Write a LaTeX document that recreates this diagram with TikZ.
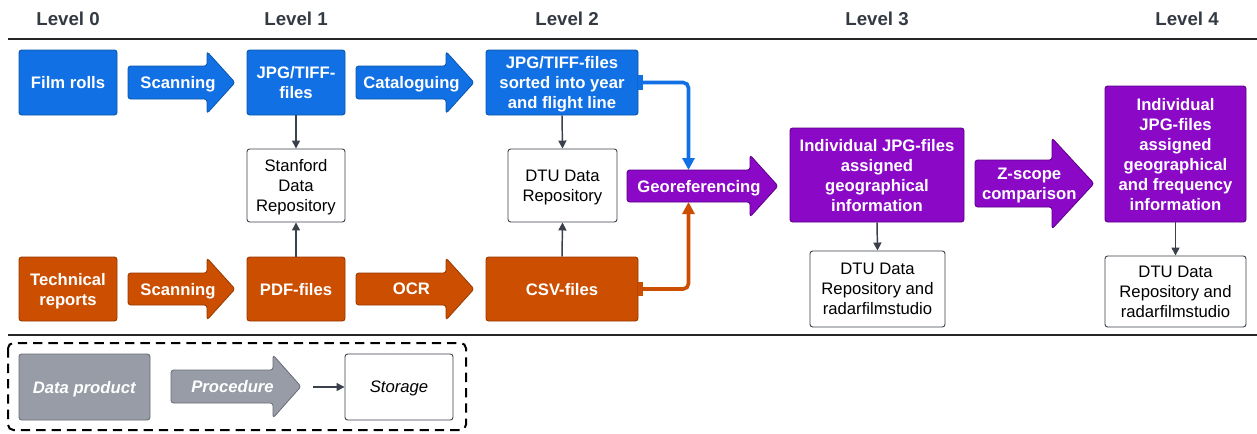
\documentclass[tikz,border=0pt]{standalone}
\usepackage{fontspec}
\setmainfont{Liberation Sans}
\usetikzlibrary{arrows.meta}
\definecolor{cblue}{HTML}{1170E3}
\definecolor{cbluel}{HTML}{0D55AA}
\definecolor{corange}{HTML}{CC4E00}
\definecolor{corangel}{HTML}{983A00}
\definecolor{cpurple}{HTML}{8A08C6}
\definecolor{cpurplel}{HTML}{5C0088}
\definecolor{cgray}{HTML}{979CA6}
\definecolor{cgrayl}{HTML}{686D76}
\definecolor{cdark}{HTML}{3A414A}

% block arrow: style, name, x start, x tip, y centre, body half, head half, head length, text
\newcommand\procarrow[9]{%
  \pgfmathsetmacro{\hx}{#4-#8}
  \draw[#1,rounded corners=2pt] (#3,#5-#6) -- (\hx,#5-#6) -- (\hx,#5-#7) -- (#4,#5)
    -- (\hx,#5+#7) -- (\hx,#5+#6) -- (#3,#5+#6) -- cycle;
  \coordinate (#2-n) at ({(#3+\hx)/2},#5-#6);
  \coordinate (#2-s) at ({(#3+\hx)/2},#5+#6);
  \node[ptxt] (#2) at ({#3+(#4-#3-0.25*#8)/2},#5) {#9};
}

\begin{document}
\begin{tikzpicture}[x=0.75pt, y=-0.75pt, >={Triangle[width=6pt,length=6pt]},
    sz/.style 2 args={minimum width=#1*0.75pt, minimum height=#2*0.75pt},
    box/.style={rectangle, rounded corners=2pt, inner sep=0pt, align=center, line width=0.7pt,
                text depth=0pt, font=\fontsize{12.5}{15}\selectfont},
    data/.style={box, text=white, font=\fontsize{12.5}{15}\selectfont\bfseries},
    bluebox/.style={data, fill=cblue, draw=cbluel},
    orangebox/.style={data, fill=corange, draw=corangel},
    purplebox/.style={data, fill=cpurple, draw=cpurplel},
    graybox/.style={data, fill=cgray, draw=cgrayl},
    store/.style={box, fill=white, draw=cdark},
    ptxt/.style={inner sep=0pt, align=center, text depth=0pt, text=white,
                 font=\fontsize{12.5}{15}\selectfont\bfseries},
    blueproc/.style={fill=cblue, draw=cbluel, line width=0.6pt},
    orangeproc/.style={fill=corange, draw=corangel, line width=0.6pt},
    purpleproc/.style={fill=cpurple, draw=cpurplel, line width=0.6pt},
    grayproc/.style={fill=cgray, draw=cgrayl, line width=0.6pt},
    lvl/.style={text=cdark!90!black, font=\fontsize{14}{16}\selectfont\bfseries},
    link/.style={->, cdark, line width=1.1pt},
    feed/.style={{Rectangle[length=3.5pt,width=11pt]}-{Triangle[width=9pt,length=9pt]},
                 line width=2.7pt, rounded corners=4pt},
    sep/.style={line width=2.2pt, black!85}]
  \useasboundingbox (0,0) rectangle (1257,433);
  % level headings and separators
  \node[lvl] (l0) at (68,19) {Level 0};
  \node[lvl] (l1) at (296,19) {Level 1};
  \node[lvl] (l2) at (567,19) {Level 2};
  \node[lvl] (l3) at (877,19) {Level 3};
  \node[lvl] (l4) at (1187,19) {Level 4};
  \draw[sep] (8,39) -- (1257,39);
  \draw[sep] (8,335) -- (1257,335);
  % radar film branch
  \node[bluebox, sz={98}{65}] (film) at (68,82.5) {Film rolls};
  \procarrow{blueproc}{scanA}{128}{235}{82.5}{16.5}{31}{28}{Scanning}
  \node[bluebox, sz={98}{65}] (jpg) at (296,82.5) {JPG/TIFF-\\files};
  \procarrow{blueproc}{catal}{356}{474}{82.5}{16.5}{31}{28}{Cataloguing}
  \node[bluebox, sz={152}{65}] (sorted) at (562,82.5) {JPG/TIFF-files\\sorted into year\\and flight line};
  % technical report branch
  \node[orangebox, sz={98}{64}] (tech) at (68,289) {Technical\\reports};
  \procarrow{orangeproc}{scanB}{128}{235}{289}{16}{31}{28}{Scanning}
  \node[orangebox, sz={98}{64}] (pdf) at (296,289) {PDF-files};
  \procarrow{orangeproc}{ocr}{356}{474}{289}{16}{31}{28}{OCR}
  \node[orangebox, sz={152}{64}] (csv) at (562,289) {CSV-files};
  % storage level 1 and 2
  \node[store, sz={98}{73}] (stanford) at (296,185.5) {Stanford\\Data\\Repository};
  \node[store, sz={109}{73}] (dtuA) at (562.5,185.5) {DTU Data\\Repository};
  \draw[link] (jpg.south) -- (stanford.north);
  \draw[link] (pdf.north) -- (stanford.south);
  \draw[link] (sorted.south) -- (dtuA.north);
  \draw[link] (csv.north) -- (dtuA.south);
  % georeferencing
  \procarrow{purpleproc}{geo}{627}{778}{186}{16}{31}{28}{Georeferencing}
  \draw[feed, cblue] (sorted.east) -| (geo-n);
  \draw[feed, corange] (csv.east) -| (geo-s);
  \node[purplebox, sz={174}{94}] (indA) at (877,175) {Individual JPG-files\\assigned\\geographical\\information};
  \node[store, sz={135}{76}] (dtuB) at (877.5,289) {DTU Data\\Repository and\\radarfilmstudio};
  \draw[link] (indA.south) -- (dtuB.north);
  \procarrow{purpleproc}{zsc}{975}{1094}{183.5}{23.5}{45.5}{42}{Z-scope\\comparison}
  \node[purplebox, sz={141}{136}] (indB) at (1175.5,154) {Individual\\JPG-files\\assigned\\geographical\\and frequency\\information};
  \node[store, sz={141}{71}] (dtuC) at (1175.5,291.5) {DTU Data\\Repository and\\radarfilmstudio};
  \draw[link] (indB.south) -- (dtuC.north);
  % legend
  \draw[line width=1.5pt, dash pattern=on 7pt off 4.5pt, rounded corners=4pt] (8,343) rectangle (466,430);
  \node[graybox, sz={131}{66}] (dprod) at (84.5,387) {\textit{Data product}};
  \procarrow{grayproc}{proc}{171}{301}{386.5}{16.5}{31.5}{28}{\textit{Procedure}}
  \node[store, sz={108}{66}] (storage) at (399,387) {\textit{Storage}};
  \coordinate (legstart) at (313,387);
  \draw[link] (legstart) -- (storage.west);
\end{tikzpicture}
\end{document}
